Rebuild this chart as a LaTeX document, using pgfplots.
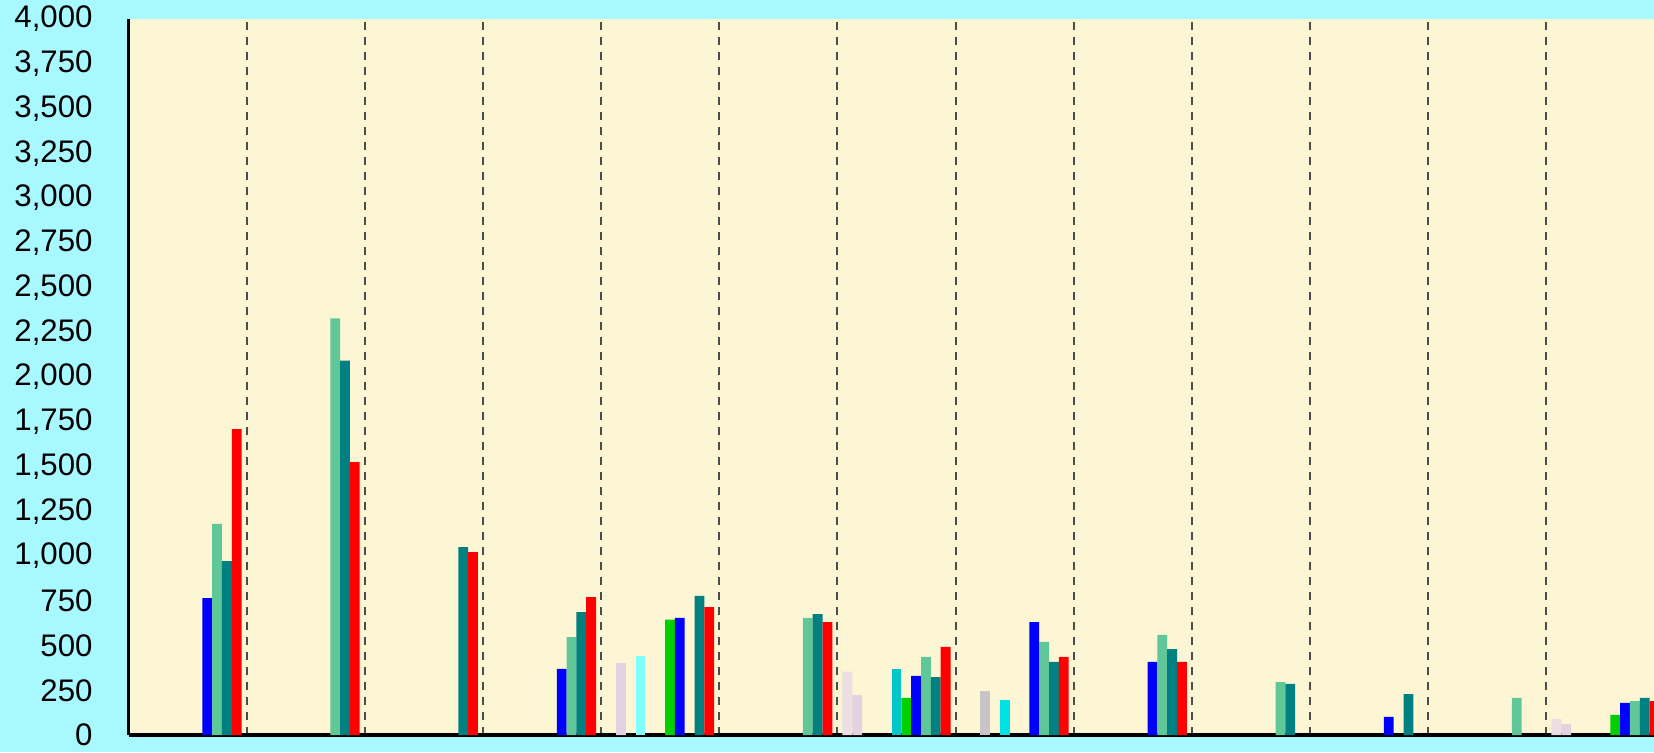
\documentclass[border=0pt]{standalone}
\usepackage{fontspec}
\setmainfont{Liberation Sans}
\usepackage{pgfplots}
\pgfplotsset{compat=1.18}
\definecolor{outerbg}{RGB}{168,248,255}
\definecolor{plotbg}{RGB}{252,246,212}
\definecolor{sA}{RGB}{238,222,228}
\definecolor{sB}{RGB}{227,210,224}
\definecolor{sC}{RGB}{200,196,200}
\definecolor{sD}{RGB}{128,255,255}
\definecolor{sE}{RGB}{0,226,226}
\definecolor{sF}{RGB}{0,200,200}
\definecolor{sG}{RGB}{0,208,0}
\definecolor{sH}{RGB}{0,0,255}
\definecolor{sI}{RGB}{96,200,152}
\definecolor{sJ}{RGB}{0,128,128}
\definecolor{sK}{RGB}{255,0,0}
\begin{document}
\begin{tikzpicture}
\fill[outerbg] (0,0) rectangle (827pt,376pt);
\clip (0,0) rectangle (827pt,376pt);
\begin{pgfinterruptboundingbox}
\begin{axis}[
  scale only axis,
  width=768pt, height=358pt,
  at={(64.25pt,8.5pt)}, anchor=south west,
  xmin=-0.5, xmax=12.5, ymin=0, ymax=4000,
  enlargelimits=false,
  axis background/.style={fill=plotbg},
  axis x line=bottom, axis y line=left,
  axis line style={-, line width=1.9pt, black},
  ybar=0pt, bar width=4.91pt,
  xtick={0.5,1.5,...,11.5}, xticklabels={},
  xmajorgrids,
  major grid style={black!70, line width=1pt, dash pattern=on 3.8pt off 3.7pt},
  ytick={0,250,...,4000},
  major tick length=0pt,
  /pgf/number format/assume math mode=true,
  /pgf/number format/1000 sep={,},
  yticklabel style={font=\fontsize{15.6pt}{18pt}\selectfont, anchor=east, inner sep=0pt, xshift=-17.8pt},
  every axis plot/.append style={draw=none},
]
\addplot[fill=sA] coordinates {(6,354) (12,89)};
\addplot[fill=sB] coordinates {(4,402) (6,223) (12,61)};
\addplot[fill=sC] coordinates {(7,247)};
\addplot[fill=sD] coordinates {(4,440)};
\addplot[fill=sE] coordinates {(7,194)};
\addplot[fill=sF] coordinates {(6,369)};
\addplot[fill=sG] coordinates {(4,644) (6,208) (12,112)};
\addplot[fill=sH] coordinates {(0,765) (3,369) (4,654) (6,330) (7,631) (8,408) (10,101) (12,179)};
\addplot[fill=sI] coordinates {(0,1179) (1,2327) (3,547) (5,654) (6,436) (7,520) (8,559) (9,296) (11,207) (12,190)};
\addplot[fill=sJ] coordinates {(0,972) (1,2091) (2,1050) (3,687) (4,777) (5,676) (6,324) (7,408) (8,480) (9,285) (10,229) (12,207)};
\addplot[fill=sK] coordinates {(0,1709) (1,1525) (2,1022) (3,771) (4,715) (5,631) (6,492) (7,436) (8,408) (12,190)};
\end{axis}
\end{pgfinterruptboundingbox}
\end{tikzpicture}
\end{document}
